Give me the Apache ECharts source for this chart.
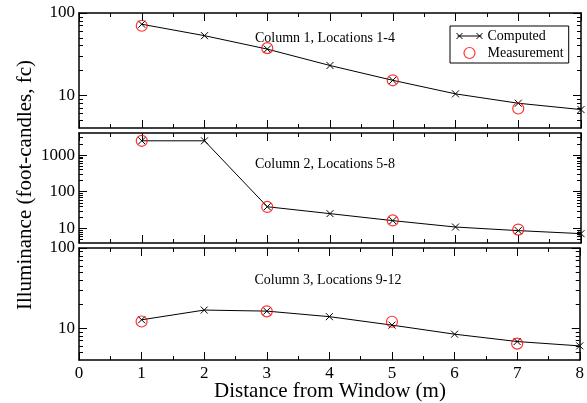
<!DOCTYPE html>
<html>
<head>
<meta charset="utf-8">
<script src="https://cdn.jsdelivr.net/npm/echarts@6/dist/echarts.min.js"></script>
<style>
  html, body { margin: 0; padding: 0; background: #fff; }
  #chart { width: 587px; height: 403px; }
</style>
</head>
<body>
<div id="chart"></div>
<script>
// distances (m) and the locations that were measured
const distance = [1, 2, 3, 4, 5, 6, 7, 8];
const measuredAt = [1, 3, 5, 7];

// computed illuminance (fc), one list per column
const col1Computed = [73, 53, 36.4, 23, 15.2, 10.4, 8.0, 6.7];
const col2Computed = [2450, 2450, 39, 25.3, 16.3, 10.9, 8.7, 7.2];
const col3Computed = [12.7, 16.8, 16.3, 13.9, 10.9, 8.4, 6.8, 6.0];

// measurements (fc) at measuredAt
const col1Measured = [70, 37.4, 15.2, 6.9];
const col2Measured = [2450, 38.5, 16.5, 9.3];
const col3Measured = [12.1, 16.2, 12.0, 6.4];

const panelTitles = ["Column 1, Locations 1-4", "Column 2, Locations 5-8", "Column 3, Locations 9-12"];
const yMin = 4;
const yMax = [100, 4000, 100];
const yMajor = [[10, 100], [10, 100, 1000], [10, 100]];
const yMinor = [
  [5, 6, 7, 8, 9, 20, 30, 40, 50, 60, 70, 80, 90],
  [5, 6, 7, 8, 9, 20, 30, 40, 50, 60, 70, 80, 90, 200, 300, 400, 500, 600, 700, 800, 900, 2000, 3000],
  [5, 6, 7, 8, 9, 20, 30, 40, 50, 60, 70, 80, 90]
];

const computed = [col1Computed, col2Computed, col3Computed];
const measured = [col1Measured, col2Measured, col3Measured];

const FONT = '"Liberation Serif", "Times New Roman", serif';
const grids = [
  { left: 79, top: 13, width: 502, height: 115 },
  { left: 79, top: 133, width: 502, height: 110 },
  { left: 79, top: 248, width: 502, height: 112 }
];
const crossSymbol = "path://M0,0L8,8M0,8L8,0";
const crossLegend = "path://M1,4L25,4M0,1L6,7M0,7L6,1M20,1L26,7M20,7L26,1";
const black = { color: "#000", width: 1 };

const xAxis = [];
const yAxis = [];
const series = [];

grids.forEach((g, i) => {
  ["bottom", "top"].forEach(pos => {
    xAxis.push({
      gridIndex: i,
      type: "value",
      position: pos,
      min: 0,
      max: 8,
      interval: 1,
      axisLine: { lineStyle: { color: "#000", width: 1.5 } },
      axisTick: { inside: true, length: 8, lineStyle: black },
      minorTick: { show: true, splitNumber: 2, length: 4, lineStyle: black },
      splitLine: { show: false },
      axisLabel: {
        show: pos === "bottom" && i === 2,
        color: "#000",
        fontFamily: FONT,
        fontSize: 17,
        margin: 5
      }
    });
  });
  ["left", "right"].forEach(pos => {
    // major ticks (+ labels on the left)
    yAxis.push({
      gridIndex: i,
      type: "log",
      position: pos,
      min: yMin,
      max: yMax[i],
      axisLine: { show: true, lineStyle: { color: "#000", width: 1.5 } },
      axisTick: { inside: true, length: 8, lineStyle: black, customValues: yMajor[i] },
      splitLine: { show: false },
      axisLabel: {
        show: pos === "left",
        customValues: yMajor[i],
        formatter: v => String(Math.round(v)),
        color: "#000",
        fontFamily: FONT,
        fontSize: 17,
        margin: 4
      }
    });
    // minor ticks
    yAxis.push({
      gridIndex: i,
      type: "log",
      position: pos,
      min: yMin,
      max: yMax[i],
      axisLine: { show: false },
      axisTick: { inside: true, length: 4, lineStyle: black, customValues: yMinor[i] },
      splitLine: { show: false },
      axisLabel: { show: false }
    });
  });

  series.push({
    name: "Computed",
    type: "line",
    xAxisIndex: i * 2,
    yAxisIndex: i * 4,
    data: distance.map((d, k) => [d, computed[i][k]]),
    symbol: crossSymbol,
    symbolSize: 7,
    lineStyle: { color: "#000", width: 1 },
    itemStyle: { color: "#000", borderColor: "#000", borderWidth: 1 },
    z: 2
  });
  series.push({
    name: "Measurement",
    type: "scatter",
    xAxisIndex: i * 2,
    yAxisIndex: i * 4,
    data: measuredAt.map((d, k) => [d, measured[i][k]]),
    symbol: "circle",
    symbolSize: 11,
    itemStyle: { color: "rgba(0,0,0,0)", borderColor: "#ff0000", borderWidth: 1.2 },
    z: 3
  });
});

const chart = echarts.init(document.getElementById("chart"), null, { renderer: "canvas" });
chart.setOption({
  animation: false,
  backgroundColor: "#fff",
  grid: grids,
  xAxis,
  yAxis,
  series,
  legend: {
    orient: "vertical",
    left: 450,
    top: 26,
    padding: [3, 5, 3, 6],
    itemGap: 3,
    itemWidth: 26,
    itemHeight: 11,
    borderColor: "#000",
    borderWidth: 1,
    textStyle: { color: "#000", fontFamily: FONT, fontSize: 14 },
    data: [
      { name: "Computed", icon: crossLegend, itemStyle: { color: "#000", borderColor: "#000", borderWidth: 1 } },
      { name: "Measurement", icon: "circle", itemStyle: { color: "rgba(0,0,0,0)", borderColor: "#ff0000", borderWidth: 1.2 } }
    ]
  },
  graphic: [
    { type: "text", x: 325, y: 38, style: { text: panelTitles[0], font: "14px " + FONT, fill: "#000", align: "center", verticalAlign: "middle" } },
    { type: "text", x: 325, y: 164, style: { text: panelTitles[1], font: "14px " + FONT, fill: "#000", align: "center", verticalAlign: "middle" } },
    { type: "text", x: 328, y: 280, style: { text: panelTitles[2], font: "14px " + FONT, fill: "#000", align: "center", verticalAlign: "middle" } },
    { type: "text", x: 330, y: 391, style: { text: "Distance from Window (m)", font: "21px " + FONT, fill: "#000", align: "center", verticalAlign: "middle" } },
    { type: "text", x: 25, y: 185, rotation: Math.PI / 2, style: { text: "Illuminance (foot-candles, fc)", font: "21px " + FONT, fill: "#000", align: "center", verticalAlign: "middle" } }
  ]
});
window.addEventListener("resize", () => chart.resize());
</script>
</body>
</html>
